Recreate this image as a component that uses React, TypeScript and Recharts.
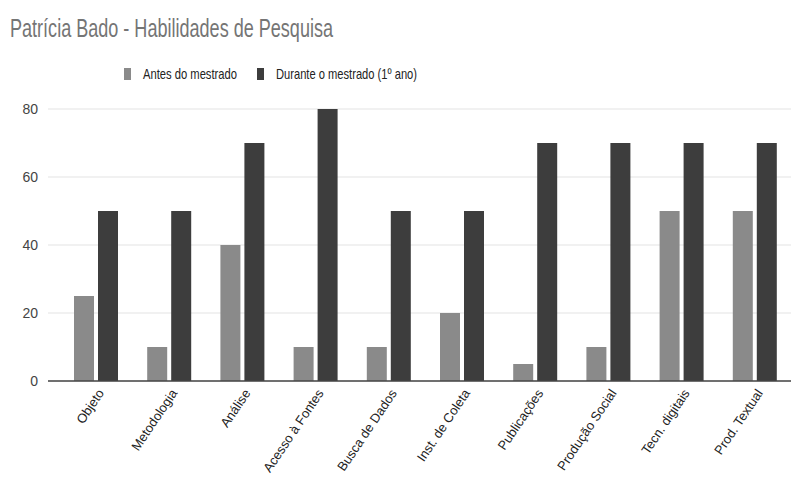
import React from 'react';
import {BarChart, Bar, XAxis, YAxis, CartesianGrid, Legend} from 'recharts';

const categories = [
  'Objeto',
  'Metodologia',
  'Análise',
  'Acesso à Fontes',
  'Busca de Dados',
  'Inst. de Coleta',
  'Publicações',
  'Produção Social',
  'Tecn. digitais',
  'Prod. Textual',
];
const antes = [25, 10, 40, 10, 10, 20, 5, 10, 50, 50];
const durante = [50, 50, 70, 80, 50, 50, 70, 70, 70, 70];
const yTicks = [0, 20, 40, 60, 80];

const data = categories.map((name, i) => ({name, antes: antes[i], durante: durante[i]}));

const FONT = '"Liberation Sans", Arial, sans-serif';

// rotated category labels under the axis
const AngledTick = (props: any) => {
  const {x, y, payload} = props;
  return (
    <text
      transform={`translate(${x + 9},${y + 4}) rotate(-56)`}
      textAnchor="end"
      fontSize={13}
      fontFamily={FONT}
      fill="#222"
    >
      {payload.value}
    </text>
  );
};

// legend labels are laid out at fixed widths
const legendWidths: Record<string, number> = {antes: 94, durante: 141};
const legendX: Record<string, number> = {antes: 124, durante: 257};

const renderLegend = (props: any) => {
  const {payload} = props;
  return (
    <svg width={791} height={30} style={{display: 'block'}}>
      {payload.map((p: any) => (
        <g key={p.dataKey}>
          <rect x={legendX[p.dataKey]} y={8} width={7} height={12} fill={p.color} />
          <text
            x={legendX[p.dataKey] + 19}
            y={19}
            fontSize={15}
            fontFamily={FONT}
            fill="#222"
            textLength={legendWidths[p.dataKey]}
            lengthAdjust="spacingAndGlyphs"
          >
            {p.value}
          </text>
        </g>
      ))}
    </svg>
  );
};

export default function App() {
  return (
    <div style={{position: 'absolute', left: 0, top: 0, width: 791, height: 481, background: '#fff', fontFamily: FONT}}>
      <svg width={791} height={50} style={{position: 'absolute', left: 0, top: 0}}>
        <text
          x={10}
          y={37}
          fontSize={25}
          fontFamily={FONT}
          fill="#757575"
          textLength={323}
          lengthAdjust="spacingAndGlyphs"
        >
          Patrícia Bado - Habilidades de Pesquisa
        </text>
      </svg>
      <BarChart
        width={791}
        height={481}
        data={data}
        margin={{top: 109, right: 0, bottom: 0, left: 0}}
        barSize={20}
        barGap={4}
      >
        <CartesianGrid vertical={false} stroke="#e3e3e3" strokeWidth={1} />
        <XAxis
          dataKey="name"
          height={100}
          interval={0}
          padding={{left: 11, right: 0}}
          tickLine={false}
          axisLine={{stroke: '#444', strokeWidth: 1.5}}
          tick={<AngledTick />}
        />
        <YAxis
          width={48}
          domain={[0, 80]}
          ticks={yTicks}
          axisLine={false}
          tickLine={false}
          tickMargin={4}
          tick={{fontSize: 14, fill: '#444', fontFamily: FONT}}
        />
        <Legend
          verticalAlign="middle"
          layout="horizontal"
          wrapperStyle={{top: 60, left: 0, width: 791}}
          content={renderLegend}
        />
        <Bar dataKey="antes" name="Antes do mestrado" fill="#8a8a8a" isAnimationActive={false} />
        <Bar dataKey="durante" name="Durante o mestrado (1º ano)" fill="#3d3d3d" isAnimationActive={false} />
      </BarChart>
    </div>
  );
}
